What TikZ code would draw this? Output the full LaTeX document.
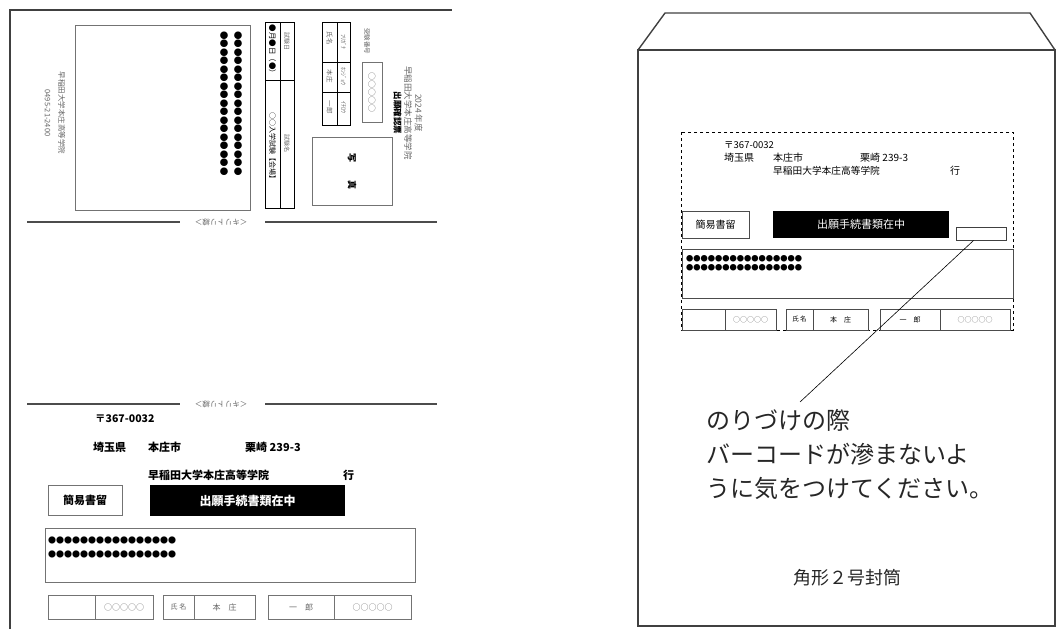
\documentclass[tikz,border=0pt]{standalone}
\usepackage{fontspec}
\setmainfont{Noto Sans CJK JP}
\newcommand{\fsize}[1]{\fontsize{#1}{#1}\selectfont}
\begin{document}
\begin{tikzpicture}[x=1pt,y=-1pt,
    thinbox/.style={draw=black!55,line width=0.6pt,inner sep=0pt},
    darkbox/.style={draw=black,line width=0.8pt},
    faint/.style={text=black!60,inner sep=0pt},
    heavy/.style={inner sep=0pt,font=\bfseries\fsize{11}},
    addr/.style={inner sep=0pt,font=\fsize{10}},
    dotrow/.style={inner sep=0pt,font=\fsize{8.5}},
    cutline/.style={gray!60!black,line width=1.1pt},
    pagerule/.style={gray!50!black,line width=1.4pt}]
    \useasboundingbox (0,0) rectangle (1057,629);
            % left sheet
            \draw[pagerule] (10,629) -- (10,10) -- (452,10);
            \draw[thinbox] (75,25) rectangle (250,210);
            \node[dotrow,rotate=-90,anchor=west] (dotsA) at (238,31) {●●●●●●●●●●●●●●●●●};
            \node[dotrow,rotate=-90,anchor=west] (dotsB) at (224,31) {●●●●●●●●●●●●●●●●●};
            \node[faint,rotate=-90,align=center,font=\fontsize{7.5}{14}\selectfont] (sender) at (55,113) {早稲田大学本庄高等学院\\0495-21-2400};
            \draw[darkbox] (265,22) rectangle (294,208);
            \draw[darkbox] (280,22) -- (280,208);
            \draw[darkbox] (265,80) -- (294,80);
            \node[faint,rotate=-90,font=\fsize{6}] (dayhead) at (287,41) {試験日};
            \node[faint,rotate=-90,font=\fsize{6}] (examhead) at (287,143) {試験名};
            \node[inner sep=0pt,rotate=-90,font=\fsize{7.5}] (day) at (272.5,51) {●月●日（●）};
            \node[inner sep=0pt,rotate=-90,font=\fsize{7}] (exam) at (272.5,147) {○○入学試験【会場】};
            \draw[darkbox] (322,22) rectangle (350,125);
            \draw[darkbox] (337,22) -- (337,125);
            \draw[darkbox] (322,62) -- (350,62);
            \draw[darkbox] (322,92) -- (350,92);
            \node[faint,rotate=-90,font=\fsize{6}] (kanahead) at (343.5,42) {ﾌﾘｶﾞﾅ};
            \node[faint,rotate=-90,font=\fsize{6}] (kanasur) at (343.5,76) {ﾎﾝｼﾞｮｳ};
            \node[faint,rotate=-90,font=\fsize{6}] (kanagiv) at (343.5,107) {ｲﾁﾛｳ};
            \node[faint,rotate=-90,font=\fsize{6.5}] (namehead) at (329.5,38) {氏名};
            \node[faint,rotate=-90,font=\fsize{6.5}] (surname) at (329.5,76) {本庄};
            \node[faint,rotate=-90,font=\fsize{6.5}] (given) at (329.5,107) {一郎};
            \node[faint,rotate=-90,font=\fsize{6.5}] (numhead) at (367,41) {受験番号};
            \node[thinbox,faint,rotate=-90,minimum width=60pt,minimum height=20pt,font=\fsize{8}] (number) at (372,92) {○○○○○};
            \node[thinbox,rotate=-90,minimum width=68pt,minimum height=80pt,font=\bfseries\fsize{9}] (photo) at (352,171) {写　　真};
            \node[faint,rotate=-90,align=center,font=\fontsize{8.5}{10.5}\selectfont] (title) at (408,113) {2024 年度\\早稲田大学本庄高等学院\\{\color{black}\bfseries 出願確認票}};
            % cut lines
            \draw[cutline] (27,222) -- (180,222);
            \draw[cutline] (265,222) -- (437,222);
            \node[faint,rotate=180,font=\fsize{7.5}] (cutA) at (221,222) {＜キリトリ線＞};
            \draw[cutline] (27,404) -- (180,404);
            \draw[cutline] (265,404) -- (437,404);
            \node[faint,rotate=180,font=\fsize{7.5}] (cutB) at (221,404) {＜キリトリ線＞};
            % label part
            \node[heavy,anchor=west,font=\bfseries\fsize{10.5}] (zipL) at (95,419) {〒367-0032};
            \node[heavy,anchor=west] (prefL) at (93,447) {埼玉県};
            \node[heavy,anchor=west] (cityL) at (148,447) {本庄市};
            \node[heavy,anchor=west] (townL) at (245,447) {栗崎 239-3};
            \node[heavy,anchor=west] (schoolL) at (148,475) {早稲田大学本庄高等学院};
            \node[heavy,anchor=west] (toL) at (343,475) {行};
            \node[thinbox,heavy,minimum width=74pt,minimum height=30pt] (kaniL) at (85,500) {簡易書留};
            \node[fill=black,text=white,inner sep=0pt,minimum width=195pt,minimum height=31pt,font=\bfseries\fsize{12}] (inL) at (247.5,500.5) {出願手続書類在中};
            \node[thinbox,minimum width=370pt,minimum height=54pt] (fromL) at (230,555) {};
            \node[dotrow,anchor=west,font=\fsize{8}] (rowL1) at (48,540) {●●●●●●●●●●●●●●●●};
            \node[dotrow,anchor=west,font=\fsize{8}] (rowL2) at (48,554) {●●●●●●●●●●●●●●●●};
            \node[thinbox,minimum width=47pt,minimum height=24pt] (blankL) at (71.5,607) {};
            \node[thinbox,faint,minimum width=58pt,minimum height=24pt,font=\fsize{8}] (codeL) at (124,607) {○○○○○};
            \node[thinbox,faint,minimum width=31pt,minimum height=24pt,font=\fsize{7}] (shimeiL) at (178.5,607) {氏 名};
            \node[thinbox,faint,minimum width=61pt,minimum height=24pt,font=\fsize{8}] (honjoL) at (224.5,607) {本　庄};
            \node[thinbox,faint,minimum width=66pt,minimum height=24pt,font=\fsize{8}] (ichiroL) at (301,607) {一　郎};
            \node[thinbox,faint,minimum width=77pt,minimum height=24pt,font=\fsize{8}] (code2L) at (372.5,607) {○○○○○};
            % envelope
            \draw[pagerule] (638,50) rectangle (1055,626);
            \draw[pagerule] (638,50) -- (665,13) -- (1030,13) -- (1055,50);
            \draw[dashed,line width=0.8pt] (681,132) rectangle (1013,330);
            \node[addr,anchor=west,font=\fsize{9.5}] (zipR) at (724,145) {〒367-0032};
            \node[addr,anchor=west] (prefR) at (724,158) {埼玉県};
            \node[addr,anchor=west] (cityR) at (773,158) {本庄市};
            \node[addr,anchor=west] (townR) at (860,158) {栗崎 239-3};
            \node[addr,anchor=west,font=\fsize{9.7}] (schoolR) at (773,171) {早稲田大学本庄高等学院};
            \node[addr,anchor=west] (toR) at (950,171) {行};
            \node[thinbox,addr,draw=gray!60!black,minimum width=67pt,minimum height=27pt] (kaniR) at (715.5,224.5) {簡易書留};
            \node[fill=black,text=white,inner sep=0pt,minimum width=176pt,minimum height=27pt,font=\fsize{11}] (inR) at (861,224.5) {出願手続書類在中};
            \node[draw=gray!50!black,line width=0.8pt,minimum width=50pt,minimum height=13pt,inner sep=0pt] (barcode) at (981,233.5) {};
            \node[thinbox,draw=gray!60!black,minimum width=331pt,minimum height=49pt] (fromR) at (847.5,273.5) {};
            \node[dotrow,anchor=west,font=\fsize{7.25}] (rowR1) at (686,259) {●●●●●●●●●●●●●●●●};
            \node[dotrow,anchor=west,font=\fsize{7.25}] (rowR2) at (686,268) {●●●●●●●●●●●●●●●●};
            \node[thinbox,draw=gray!60!black,minimum width=43pt,minimum height=21pt] (blankR) at (703.5,319.5) {};
            \node[thinbox,draw=gray!60!black,faint,minimum width=51pt,minimum height=21pt,font=\fsize{7}] (codeR) at (750.5,319.5) {○○○○○};
            \node[thinbox,draw=gray!60!black,minimum width=27pt,minimum height=21pt,font=\fsize{6.5}] (shimeiR) at (799.5,319.5) {氏 名};
            \node[thinbox,draw=gray!60!black,minimum width=55pt,minimum height=21pt,font=\fsize{7}] (honjoR) at (840.5,319.5) {本　庄};
            \node[thinbox,draw=gray!60!black,minimum width=60pt,minimum height=21pt,font=\fsize{7}] (ichiroR) at (910,319.5) {一　郎};
            \node[thinbox,draw=gray!60!black,faint,minimum width=70pt,minimum height=21pt,font=\fsize{7}] (code2R) at (975,319.5) {○○○○○};
            \node[inner sep=0pt,anchor=north west,align=left,text=black!85,font=\fontsize{24}{34}\selectfont] (note) at (706,409) {のりづけの際\\バーコードが滲まないよ\\うに気をつけてください。};
            \coordinate (tip) at (800,402);
            \draw[line width=0.6pt] (barcode) -- (tip);
            \node[inner sep=0pt,text=black!85,font=\fsize{18}] (kaku) at (847,578) {角形２号封筒};
        \end{tikzpicture}
\end{document}
